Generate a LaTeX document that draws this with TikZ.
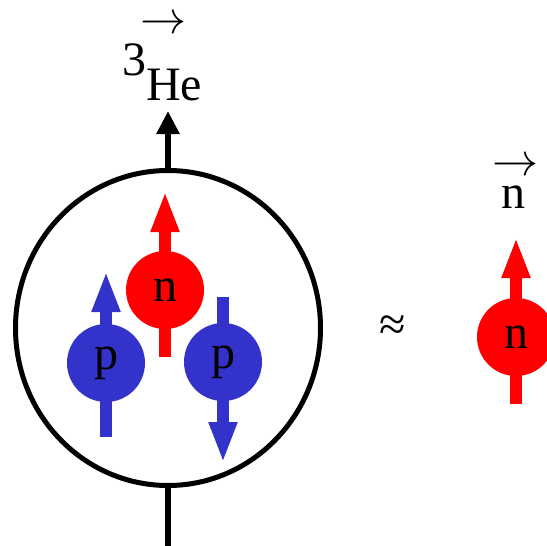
\documentclass[tikz,border=0pt]{standalone}
\usepackage{fontspec}
\setmainfont{Liberation Serif}
\usetikzlibrary{arrows.meta,positioning,shapes.geometric}
\definecolor{neutronred}{RGB}{255,0,0}
\definecolor{protonblue}{RGB}{51,51,204}
\newcommand{\spinvec}{\resizebox{46pt}{!}{$\rightarrow$}}
\tikzset{
  nucleon/.style={circle, minimum size=78pt, inner sep=0pt,
                  font=\fontsize{48}{52}\selectfont},
  spin/.style={line width=12pt, -{Triangle[width=26pt,length=41pt]}},
  tag/.style={inner sep=0pt, font=\fontsize{48}{52}\selectfont},
}
\begin{document}
\begin{tikzpicture}[x=1pt,y=-1pt]
  \useasboundingbox[fill=white] (0,0) rectangle (546,546);
  \node[ellipse, draw, line width=5pt, minimum width=305pt, minimum height=315pt,
        inner sep=0pt] (nucleus) at (168,328) {};
  \coordinate (spintop) at (168,111);
  \coordinate (spinbottom) at (168,560);
  \draw[line width=6pt, -{Triangle[width=22pt,length=23pt]}] (nucleus.north) -- (spintop);
  \draw[line width=6pt] (nucleus.south) -- (spinbottom);
  \node[tag, anchor=base] (he) at (162,100) {\raisebox{25pt}{3}He};
  \node[tag, anchor=base] (hevec) at (163,34) {\spinvec};

  \node[nucleon] (n1) at (165,290) {};
  \node[nucleon] (p1) at (106,363) {};
  \node[nucleon] (p2) at (223,362) {};
  \draw[spin, neutronred] ([yshift=-67pt]n1.center) -- ([yshift=99pt]n1.center);
  \draw[spin, protonblue] ([yshift=-74pt]p1.center) -- ([yshift=92pt]p1.center);
  \draw[spin, protonblue] ([yshift=65pt]p2.center) -- ([yshift=-101pt]p2.center);
  \node[nucleon, fill=neutronred] at (n1) {n};
  \node[nucleon, fill=protonblue] at (p1) {p};
  \node[nucleon, fill=protonblue] at (p2) {p};

  \node[tag] (approx) at (393,328) {≈};

  \node[nucleon] (n2) at (516,337) {};
  \draw[spin, neutronred] ([yshift=-67pt]n2.center) -- ([yshift=100pt]n2.center);
  \node[nucleon, fill=neutronred] at (n2) {n};
  \node[tag, anchor=base] (nfree) at (513,208) {n};
  \node[tag, anchor=base] (nvec) at (515,175) {\spinvec};
\end{tikzpicture}
\end{document}
